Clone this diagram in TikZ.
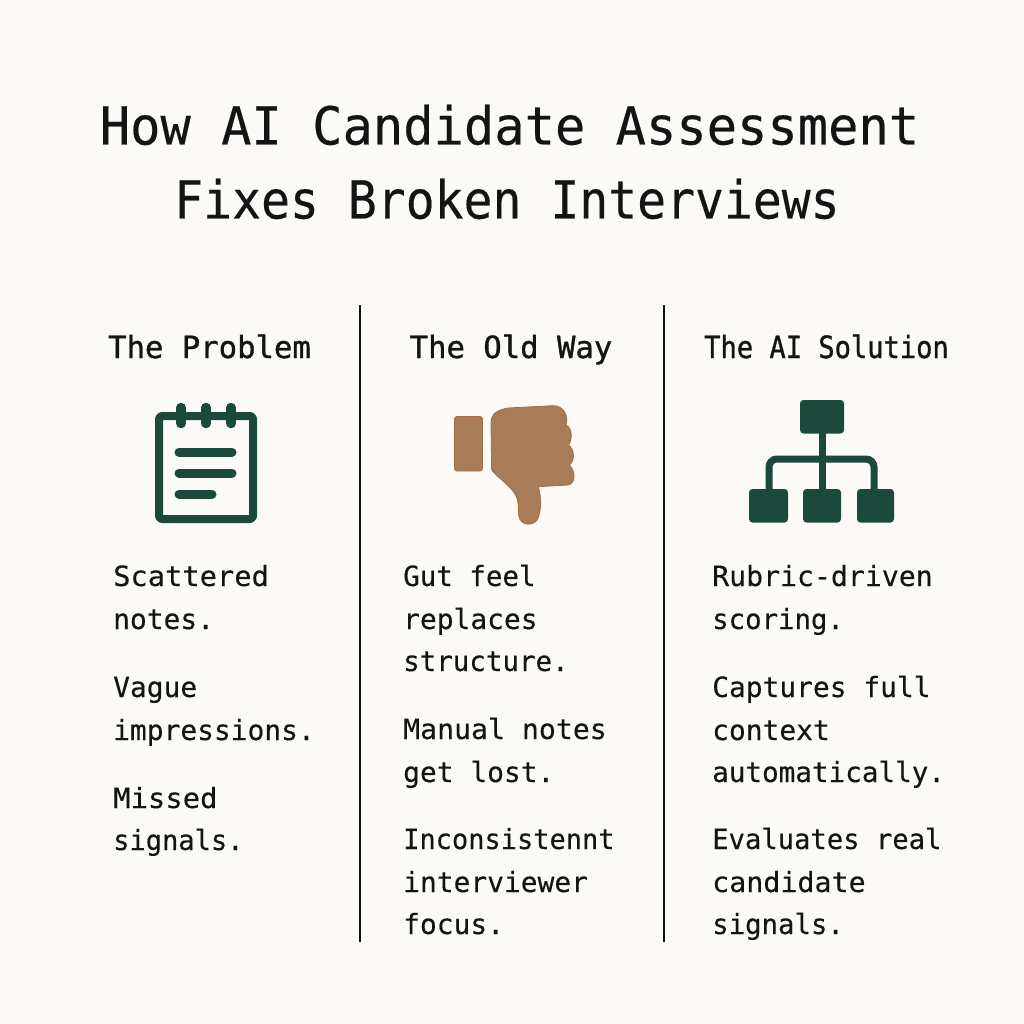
\documentclass[tikz,border=0pt]{standalone}
\usepackage{fontspec}
\setmainfont{DejaVu Sans Mono}
\newfontfamily\titlefont[FakeBold=0.35]{DejaVu Sans Mono}
\newfontfamily\headfont[FakeBold=1.1]{DejaVu Sans Mono}
\newfontfamily\bodyfont[FakeBold=0.25]{DejaVu Sans Mono}
\definecolor{bgc}{HTML}{FBFAF7}
\definecolor{ink}{HTML}{141414}
\definecolor{grn}{HTML}{1B4A3D}
\definecolor{brn}{HTML}{A87C58}
\definecolor{brne}{HTML}{A86C42}
\newcommand{\sx}[2]{\scalebox{#1}[1]{#2}}
\tikzset{
  titletext/.style={anchor=base,inner sep=0pt,text=ink,font=\titlefont\fontsize{52.4}{52}\selectfont},
  headtext/.style={anchor=base,inner sep=0pt,text=ink,font=\headfont\fontsize{30.6}{30}\selectfont},
  bodytext/.style={anchor=base west,inner sep=0pt,text=ink,font=\bodyfont\fontsize{27.9}{28}\selectfont},
  divider/.style={draw=ink,line width=1.4pt},
  greenline/.style={draw=grn,line cap=round,line join=round},
  greenbox/.style={fill=grn,rounded corners=3.5pt},
  brownshape/.style={fill=brn,draw=brne,line width=0.8pt,line join=round}
}
\begin{document}
\begin{tikzpicture}[x=1pt,y=-1pt]
\useasboundingbox (0,0) rectangle (1024,1024);
\fill[bgc] (0,0) rectangle (1024,1024);
% title
\node[titletext] (t1) at (509.5,144.5) {\sx{0.962}{How AI Candidate Assessment}};
\node[titletext] (t2) at (507,218.5) {\sx{0.917}{Fixes Broken Interviews}};
% dividers
\coordinate (d1a) at (360,305); \coordinate (d1b) at (360,942);
\coordinate (d2a) at (664,305); \coordinate (d2b) at (664,942);
\draw[divider] (d1a) -- (d1b);
\draw[divider] (d2a) -- (d2b);
% headings
\node[headtext] (h1) at (209.5,358) {The Problem};
\node[headtext] (h2) at (511,358) {The Old Way};
\node[headtext] (h3) at (826.5,358) {\sx{0.885}{The AI Solution}};
% column 1
\node[bodytext] (a1) at (113,586) {\sx{1.03}{Scattered}};
\node[bodytext] (a2) at (113,629) {notes.};
\node[bodytext] (a3) at (113,697) {Vague};
\node[bodytext] (a4) at (113,740) {impressions.};
\node[bodytext] (a5) at (113,808) {\sx{1.035}{Missed}};
\node[bodytext] (a6) at (113,850) {\sx{0.97}{signals.}};
% column 2
\node[bodytext] (b1) at (403,586) {\sx{0.985}{Gut feel}};
\node[bodytext] (b2) at (403,629) {replaces};
\node[bodytext] (b3) at (403,671) {\sx{0.985}{structure.}};
\node[bodytext] (b4) at (403,739) {\sx{1.01}{Manual notes}};
\node[bodytext] (b5) at (403,782) {get lost.};
\node[bodytext] (b6) at (403,849) {\sx{0.968}{Inconsistennt}};
\node[bodytext] (b7) at (403,892) {interviewer};
\node[bodytext] (b8) at (403,934) {focus.};
% column 3
\node[bodytext] (c1) at (712,586) {\sx{1.01}{Rubric-driven}};
\node[bodytext] (c2) at (712,629) {\sx{0.98}{scoring.}};
\node[bodytext] (c3) at (712,697) {Captures full};
\node[bodytext] (c4) at (712,740) {context};
\node[bodytext] (c5) at (712,782) {\sx{0.99}{automatically.}};
\node[bodytext] (c6) at (712,849) {\sx{0.975}{Evaluates real}};
\node[bodytext] (c7) at (712,892) {\sx{1.015}{candidate}};
\node[bodytext] (c8) at (712,934) {\sx{0.98}{signals.}};
% notepad icon
\draw[greenline,line width=8pt,rounded corners=3pt] (159,416) rectangle (253,519);
\foreach \x in {181,206,231}
  \draw[greenline,line width=9.5pt] (\x,407.5) -- (\x,423.5);
\draw[greenline,line width=9pt] (179,452) -- (232,452);
\draw[greenline,line width=9pt] (179,473) -- (232,473);
\draw[greenline,line width=9pt] (179,494) -- (212,494);
% thumbs-down icon
\draw[brownshape,rounded corners=2.5pt] (454.5,416.5) rectangle (482.5,471);
\begin{scope}[shift={(440,390)},x=0.3333pt,y=-0.3333pt]
\draw[brownshape]
 (153,100) .. controls (153,72) and (170,60) .. (205,54)
 -- (340,47) .. controls (368,47) and (388,75) .. (378,105)
 .. controls (398,115) and (398,150) .. (385,165)
 .. controls (405,178) and (405,212) .. (388,225)
 .. controls (408,245) and (407,280) .. (385,285)
 -- (295,290) .. controls (305,325) and (303,355) .. (296,380)
 .. controls (288,410) and (240,412) .. (236,375)
 .. controls (234,350) and (238,335) .. (225,312)
 .. controls (205,282) and (175,265) .. (155,240) -- cycle;
\end{scope}
% org chart icon
\draw[grn,line width=7pt] (822,430) -- (822,492);
\draw[grn,line width=7pt,rounded corners=8pt] (769,492) -- (769,459) -- (874,459) -- (874,492);
\fill[greenbox] (800,400) rectangle (844,433.5);
\fill[greenbox] (749,489) rectangle (788,522.5);
\fill[greenbox] (803,489) rectangle (841,522.5);
\fill[greenbox] (857,489) rectangle (894,522.5);
\end{tikzpicture}
\end{document}
